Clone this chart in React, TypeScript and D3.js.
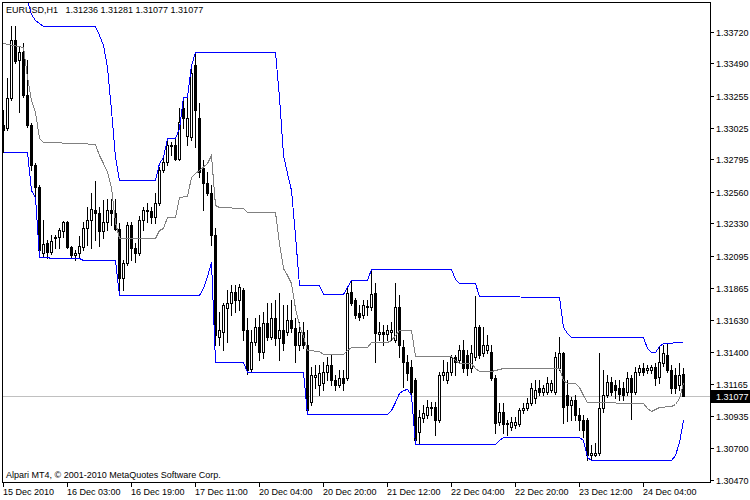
import React from "react";
import * as d3 from "d3";

const symbolTitle = "EURUSD,H1   1.31236 1.31281 1.31077 1.31077";
const copyright = "Alpari MT4, © 2001-2010 MetaQuotes Software Corp.";
const bidPrice = 1.31077;

const priceTicks = ["1.33720","1.33490","1.33255","1.33025","1.32795","1.32560","1.32330","1.32095","1.31865","1.31630","1.31400","1.31165","1.30935","1.30700","1.30470"];
const timeLabels = ["15 Dec 2010","16 Dec 03:00","16 Dec 19:00","17 Dec 11:00","20 Dec 04:00","20 Dec 20:00","21 Dec 12:00","22 Dec 04:00","22 Dec 20:00","23 Dec 12:00","24 Dec 04:00"];
const timeLabelBars = [0,16,32,48,64,80,96,112,128,144,160];

const opens = [1.33044,1.33022,1.33240,1.33660,1.33515,1.33573,1.33261,1.33044,1.32754,1.32594,
1.32116,1.32188,1.32123,1.32225,1.32232,1.32275,1.32341,1.32159,1.32101,1.32116,
1.32159,1.32297,1.32355,1.32428,1.32406,1.32275,1.32341,1.32428,1.32406,1.32290,
1.31935,1.32043,1.32319,1.32152,1.32116,1.32355,1.32420,1.32420,1.32377,1.32478,
1.32718,1.32776,1.32892,1.32899,1.32797,1.33167,1.32964,1.32957,1.33479,1.33095,
1.32732,1.32623,1.32551,1.32246,1.31507,1.31543,1.31717,1.31753,1.31833,1.31775,
1.31848,1.31558,1.31275,1.31471,1.31579,1.31398,1.31608,1.31507,1.31645,1.31500,
1.31558,1.31543,1.31630,1.31572,1.31449,1.31543,1.31449,1.31036,1.31217,1.31159,
1.31173,1.31253,1.31304,1.31195,1.31159,1.31210,1.31210,1.31833,1.31775,1.31681,
1.31666,1.31724,1.31724,1.31826,1.31529,1.31543,1.31529,1.31543,1.31485,1.31724,
1.31434,1.31326,1.31289,1.31195,1.30818,1.30920,1.30941,1.30992,1.30999,1.30905,
1.31231,1.31195,1.31253,1.31362,1.31340,1.31413,1.31376,1.31282,1.31362,1.31579,
1.31391,1.31413,1.31398,1.31210,1.30891,1.30963,1.30876,1.30854,1.30869,1.30876,
1.30978,1.30992,1.31028,1.31065,1.31137,1.31108,1.31108,1.31123,1.31108,1.31282,
1.31391,1.31086,1.31014,1.31050,1.30941,1.30905,1.30905,1.30651,1.30651,1.30666,
1.30992,1.31086,1.31181,1.31159,1.31137,1.31137,1.31108,1.31210,1.31108,1.31253,
1.31282,1.31268,1.31268,1.31289,1.31217,1.31318,1.31376,1.31268,1.31231,1.31159,
1.31236];

const highs = [1.33153,1.33385,1.33762,1.33762,1.33609,1.33638,1.33515,1.33058,1.32768,1.32609,
1.32355,1.32210,1.32246,1.32246,1.32297,1.32348,1.32348,1.32167,1.32138,1.32239,
1.32341,1.32449,1.32551,1.32638,1.32449,1.32500,1.32507,1.32507,1.32507,1.32333,
1.32065,1.32341,1.32341,1.32188,1.32384,1.32449,1.32478,1.32449,1.32551,1.32739,
1.32805,1.32950,1.32921,1.32950,1.33167,1.33247,1.33247,1.33479,1.33573,1.33203,
1.32790,1.32703,1.32609,1.32297,1.31688,1.31753,1.31848,1.31884,1.31884,1.31891,
1.31862,1.31645,1.31558,1.31645,1.31666,1.31688,1.31753,1.31753,1.31775,1.31826,
1.31739,1.31739,1.31775,1.31645,1.31616,1.31616,1.31558,1.31289,1.31304,1.31304,
1.31326,1.31362,1.31376,1.31231,1.31268,1.31268,1.31862,1.31920,1.31790,1.31739,
1.31775,1.31775,1.32000,1.31898,1.31616,1.31594,1.31594,1.31616,1.31898,1.31811,
1.31485,1.31376,1.31340,1.31210,1.30978,1.31014,1.31050,1.31036,1.31036,1.31253,
1.31340,1.31326,1.31376,1.31376,1.31449,1.31485,1.31413,1.31449,1.31804,1.31594,
1.31579,1.31521,1.31449,1.31231,1.31028,1.31028,1.30905,1.30927,1.30927,1.30992,
1.31028,1.31065,1.31173,1.31195,1.31195,1.31159,1.31217,1.31195,1.31398,1.31507,
1.31398,1.31195,1.31072,1.31086,1.30992,1.30941,1.30920,1.30724,1.30738,1.31391,
1.31268,1.31231,1.31217,1.31195,1.31195,1.31181,1.31253,1.31231,1.31289,1.31304,
1.31318,1.31304,1.31304,1.31318,1.31434,1.31449,1.31463,1.31304,1.31282,1.31318,
1.31281];

const lows = [1.32848,1.33008,1.33225,1.33493,1.33138,1.33247,1.33029,1.32718,1.32522,1.32094,
1.32094,1.32080,1.32109,1.32152,1.32152,1.32232,1.32152,1.32080,1.32065,1.32080,
1.32138,1.32174,1.32152,1.32210,1.32167,1.32225,1.32283,1.32319,1.32283,1.31826,
1.31848,1.32029,1.32065,1.32051,1.32101,1.32283,1.32341,1.32333,1.32333,1.32464,
1.32703,1.32754,1.32826,1.32790,1.32790,1.33022,1.32899,1.32935,1.32884,1.32667,
1.32428,1.32536,1.32174,1.31449,1.31449,1.31413,1.31471,1.31666,1.31688,1.31703,
1.31485,1.31239,1.31253,1.31449,1.31340,1.31355,1.31485,1.31492,1.31449,1.31340,
1.31413,1.31521,1.31543,1.31326,1.31413,1.31427,1.30949,1.31014,1.31137,1.31086,
1.31123,1.31195,1.31159,1.31123,1.31144,1.31123,1.31195,1.31739,1.31645,1.31630,
1.31645,1.31666,1.31703,1.31326,1.31485,1.31449,1.31485,1.31485,1.31471,1.31362,
1.31144,1.31195,1.31086,1.30731,1.30731,1.30891,1.30920,1.30941,1.30796,1.30891,
1.31195,1.31173,1.31231,1.31231,1.31326,1.31253,1.31231,1.31253,1.31340,1.31355,
1.31369,1.31391,1.31195,1.30811,1.30869,1.30811,1.30796,1.30833,1.30847,1.30862,
1.30956,1.30978,1.31014,1.31028,1.31086,1.31086,1.31094,1.31108,1.31094,1.31268,
1.30883,1.30898,1.30905,1.30905,1.30833,1.30782,1.30615,1.30622,1.30644,1.30651,
1.30963,1.31072,1.31086,1.31065,1.31050,1.31050,1.31086,1.30912,1.31094,1.31231,
1.31231,1.31246,1.31246,1.31159,1.31173,1.31297,1.31253,1.31101,1.31101,1.31123,
1.31077];

const closes = [1.33008,1.33240,1.33660,1.33508,1.33573,1.33261,1.33044,1.32754,1.32594,1.32138,
1.32181,1.32123,1.32203,1.32232,1.32283,1.32341,1.32159,1.32101,1.32116,1.32167,
1.32297,1.32355,1.32435,1.32406,1.32275,1.32341,1.32428,1.32406,1.32290,1.31935,
1.32043,1.32319,1.32152,1.32116,1.32355,1.32428,1.32428,1.32377,1.32478,1.32718,
1.32776,1.32899,1.32899,1.32797,1.33066,1.33095,1.33095,1.33421,1.33153,1.32703,
1.32623,1.32551,1.32246,1.31521,1.31558,1.31739,1.31753,1.31833,1.31775,1.31869,
1.31558,1.31268,1.31471,1.31579,1.31398,1.31608,1.31507,1.31645,1.31500,1.31558,
1.31463,1.31630,1.31572,1.31449,1.31543,1.31449,1.30978,1.31231,1.31231,1.31246,
1.31253,1.31304,1.31195,1.31159,1.31210,1.31173,1.31826,1.31753,1.31666,1.31652,
1.31739,1.31732,1.31819,1.31536,1.31543,1.31529,1.31558,1.31558,1.31724,1.31449,
1.31326,1.31246,1.31108,1.30760,1.30927,1.30956,1.30999,1.30999,1.30905,1.31231,
1.31253,1.31253,1.31362,1.31326,1.31413,1.31282,1.31282,1.31391,1.31579,1.31376,
1.31449,1.31449,1.31210,1.30883,1.30963,1.30876,1.30883,1.30891,1.30891,1.30978,
1.30992,1.31028,1.31137,1.31123,1.31108,1.31137,1.31173,1.31173,1.31362,1.31391,
1.30999,1.31014,1.31050,1.30941,1.30905,1.30833,1.30651,1.30666,1.30666,1.30992,
1.31086,1.31181,1.31108,1.31123,1.31094,1.31086,1.31210,1.31108,1.31253,1.31282,
1.31253,1.31282,1.31289,1.31210,1.31326,1.31391,1.31268,1.31137,1.31137,1.31231,
1.31077];

// channel lines: [bar index, price]
const upperBand: [number, number][] = [[0,1.34240],[5,1.33986],[6,1.33950],[7,1.33849],[8,1.33805],[9,1.33783],[10,1.33762],[23,1.33762],[24,1.33696],[25,1.33624],[26,1.33464],[27,1.33153],[28,1.32812],[29,1.32645],[38,1.32645],[39,1.32768],[40,1.32812],[41,1.32950],[43,1.32950],[44,1.33022],[45,1.33247],[46,1.33247],[47,1.33479],[48,1.33573],[68,1.33573],[69,1.33247],[70,1.32826],[71,1.32696],[72,1.32573],[73,1.32246],[74,1.31884],[79,1.31884],[80,1.31819],[85,1.31819],[86,1.31869],[87,1.31920],[91,1.31920],[92,1.32000],[112,1.32000],[113,1.31927],[114,1.31898],[118,1.31898],[119,1.31804],[139,1.31797],[140,1.31579],[141,1.31536],[142,1.31507],[160,1.31507],[161,1.31427],[162,1.31398],[163,1.31398],[164,1.31442],[165,1.31463],[170,1.31471]];

const lowerBand: [number, number][] = [[0,1.32848],[6,1.32848],[7,1.32573],[8,1.32522],[9,1.32087],[11,1.32087],[12,1.32080],[19,1.32080],[20,1.32065],[28,1.32065],[29,1.31811],[49,1.31811],[50,1.31862],[51,1.31949],[52,1.32051],[53,1.31326],[60,1.31326],[61,1.31253],[75,1.31253],[76,1.30949],[96,1.30949],[97,1.30978],[98,1.31036],[99,1.31101],[100,1.31123],[101,1.31130],[102,1.31086],[103,1.30731],[123,1.30731],[124,1.30760],[125,1.30782],[144,1.30782],[145,1.30760],[146,1.30637],[147,1.30615],[167,1.30615],[168,1.30651],[169,1.30746],[170,1.30905]];

const midLine: [number, number][] = [[0,1.33638],[5,1.33609],[6,1.33392],[7,1.33225],[8,1.33138],[9,1.32950],[10,1.32921],[19,1.32913],[23,1.32906],[24,1.32826],[25,1.32768],[26,1.32703],[27,1.32594],[28,1.32341],[29,1.32225],[38,1.32225],[39,1.32283],[40,1.32297],[41,1.32377],[43,1.32377],[44,1.32522],[46,1.32529],[47,1.32667],[48,1.32696],[49,1.32718],[51,1.32768],[52,1.32826],[53,1.32464],[54,1.32449],[60,1.32442],[61,1.32413],[68,1.32413],[69,1.32188],[70,1.32007],[71,1.31956],[72,1.31898],[73,1.31717],[74,1.31594],[75,1.31514],[76,1.31413],[79,1.31405],[80,1.31384],[85,1.31384],[86,1.31413],[87,1.31434],[91,1.31434],[92,1.31471],[96,1.31471],[97,1.31485],[98,1.31521],[99,1.31558],[102,1.31558],[103,1.31369],[112,1.31369],[113,1.31340],[114,1.31318],[117,1.31318],[118,1.31282],[119,1.31260],[122,1.31260],[123,1.31268],[125,1.31282],[139,1.31282],[140,1.31195],[141,1.31173],[143,1.31173],[144,1.31144],[145,1.31086],[146,1.31036],[160,1.31028],[161,1.30992],[162,1.30970],[164,1.30999],[167,1.31007],[168,1.31021],[169,1.31065],[170,1.31173]];

const FONT = "'Liberation Sans', Arial, sans-serif";

export default function App() {
  const plotL = 2, plotT = 2, plotR = 710, plotB = 482;
  const x = d3.scaleLinear().domain([0, opens.length - 1]).range([3, 683]);
  const y = d3.scaleLinear().domain([1.3047, 1.3395]).range([480, 0]);
  const line = d3
    .line<[number, number]>()
    .x((d) => Math.round(x(d[0])) + 0.5)
    .y((d) => Math.round(y(d[1])) + 0.5);

  const candles = opens.map((o, i) => ({ i, o, h: highs[i], l: lows[i], c: closes[i] }));
  const bidY = Math.round(y(bidPrice));

  return (
    <svg
      width={750}
      height={500}
      style={{ position: "absolute", left: 0, top: 0, display: "block" }}
      fontFamily={FONT}
      fontSize={9}
    >
      <defs>
        <clipPath id="plotClip">
          <rect x={plotL + 1} y={plotT + 1} width={plotR - plotL - 1} height={plotB - plotT - 1} />
        </clipPath>
      </defs>
      <rect x={0} y={0} width={750} height={500} fill="#ffffff" />

      {/* bid line */}
      <line x1={plotL} x2={plotR} y1={bidY + 0.5} y2={bidY + 0.5} stroke="#c0c0c0" strokeWidth={1} shapeRendering="crispEdges" />

      <text x={6} y={13} fill="#000" style={{ whiteSpace: "pre" }}>{symbolTitle}</text>

      <g clipPath="url(#plotClip)">
        {candles.map((d) => {
          const cx = Math.round(x(d.i));
          const yo = Math.round(y(d.o));
          const yc = Math.round(y(d.c));
          const yh = Math.round(y(d.h));
          const yl = Math.round(y(d.l));
          const top = Math.min(yo, yc);
          const bot = Math.max(yo, yc);
          const bull = d.c > d.o;
          return (
            <g key={d.i} shapeRendering="crispEdges">
              <rect x={cx} y={yh} width={1} height={yl - yh + 1} fill="#000" />
              <rect x={cx - 1} y={top} width={3} height={bot - top + 1} fill="#000" />
              {bull && bot - top > 1 ? (
                <rect x={cx} y={top + 1} width={1} height={bot - top - 1} fill="#fff" />
              ) : null}
            </g>
          );
        })}
        <path d={line(midLine) || ""} fill="none" stroke="#808080" strokeWidth={1} shapeRendering="crispEdges" />
        <path d={line(upperBand) || ""} fill="none" stroke="#0000ff" strokeWidth={1} shapeRendering="crispEdges" />
        <path d={line(lowerBand) || ""} fill="none" stroke="#0000ff" strokeWidth={1} shapeRendering="crispEdges" />
      </g>

      <text x={6} y={478} fill="#000">{copyright}</text>

      {/* frame */}
      <g stroke="#000" strokeWidth={1} shapeRendering="crispEdges">
        <line x1={plotL + 0.5} x2={plotL + 0.5} y1={plotT} y2={plotB + 1} />
        <line x1={plotL} x2={plotR + 1} y1={plotT + 0.5} y2={plotT + 0.5} />
        <line x1={plotR + 0.5} x2={plotR + 0.5} y1={plotT} y2={plotB + 1} />
        <line x1={plotL} x2={plotR + 1} y1={plotB + 0.5} y2={plotB + 0.5} />
      </g>

      {/* price axis */}
      {priceTicks.map((t) => {
        const ty = Math.round(y(+t));
        return (
          <g key={t}>
            <line x1={plotR + 1} x2={plotR + 4} y1={ty + 0.5} y2={ty + 0.5} stroke="#000" shapeRendering="crispEdges" />
            <text x={716} y={ty + 3.5} fill="#000">{t}</text>
          </g>
        );
      })}

      {/* bid label */}
      <rect x={711} y={bidY - 6} width={39} height={13} fill="#000" />
      <text x={716} y={bidY + 4} fill="#fff">{bidPrice.toFixed(5)}</text>

      {/* time axis */}
      {timeLabels.map((t, k) => {
        const tx = Math.round(x(timeLabelBars[k]));
        return (
          <g key={t}>
            <line x1={tx + 0.5} x2={tx + 0.5} y1={plotB + 1} y2={plotB + 5} stroke="#000" shapeRendering="crispEdges" />
            <text x={tx} y={495} fill="#000">{t}</text>
          </g>
        );
      })}
    </svg>
  );
}
